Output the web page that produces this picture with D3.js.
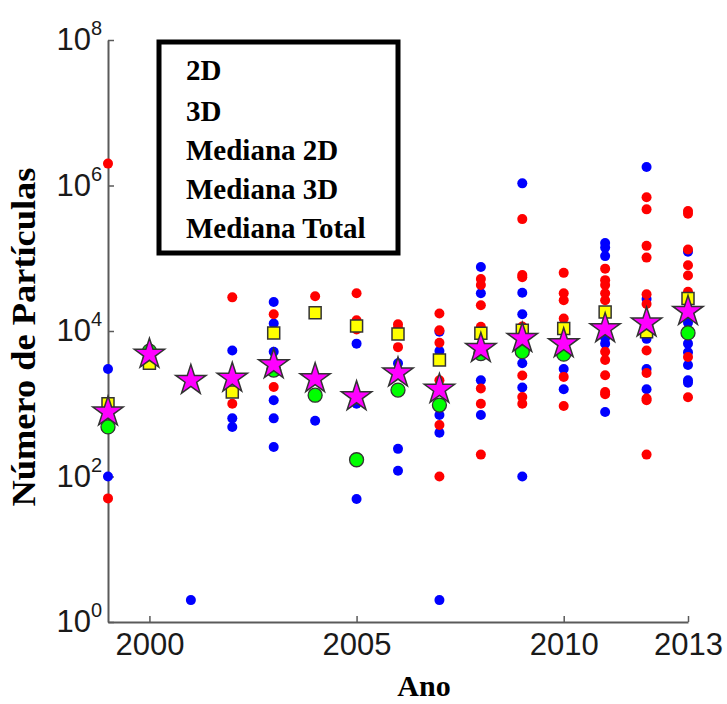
<!DOCTYPE html>
<html>
<head>
<meta charset="utf-8">
<script src="https://cdn.jsdelivr.net/npm/d3@7/dist/d3.min.js"></script>
<style>
    html, body { margin: 0; padding: 0; background: #fff; }
    svg { display: block; }
</style>
</head>
<body>
<div id="chart"></div>
<script>
// Anos (eixo x)
const years = [1999, 2000, 2001, 2002, 2003, 2004, 2005, 2006, 2007, 2008, 2009, 2010, 2011, 2012, 2013];

// Pontos 2D (azul), por ano
const pontos2D = [
    [3000, 100],
    [],
    [2],
    [5400, 630, 480],
    [25000, 12700, 5200, 1120, 630, 255],
    [585],
    [6700, 1000, 49],
    [3600, 240, 120],
    [9800, 5300, 700, 400, 2],
    [76000, 33000, 2100, 700],
    [1070000, 33500, 17000, 4900, 3600, 1670, 100],
    [5000, 3000, 1580],
    [162000, 140000, 107000, 8000, 6700, 770],
    [1800000, 27500, 7800, 3000, 1580],
    [123000, 13000, 6700, 5100, 3400, 2100, 1950]
];

// Pontos 3D (vermelho), por ano
const pontos3D = [
    [2000000, 50],
    [],
    [],
    [29000, 1000],
    [17000, 1700],
    [30000, 1300],
    [33000, 14000, 10500],
    [12400, 11000, 6000],
    [17400, 10200, 6900, 2100, 510, 100],
    [52000, 43000, 22600, 11400, 1620, 1000, 200],
    [345000, 59000, 55000, 11500, 2450, 1240, 1000],
    [63000, 33000, 26500, 14800, 2340, 930],
    [72000, 50000, 43000, 33000, 26500, 5200, 4000, 2460, 1450, 1350],
    [690000, 470000, 148000, 102000, 32000, 23500, 5400, 2650, 1180, 1120, 200],
    [445000, 410000, 132000, 80000, 58000, 34500, 4400, 1230]
];

// Medianas por ano (null = escondida atrás da estrela)
const mediana2D = [480, 5300, null, null, 2900, 1310, 170, 1540, 960, 4900, 5200, 4800, null, null, 9400];
const mediana3D = [1000, 3600, null, 1450, 9400, 17800, 11700, 9100, 4000, 9300, 10200, 10800, 18300, 9800, 28000];
const medianaTotal = [770, 4800, 2100, 2250, 3450, 2220, 1250, 2650, 1580, 5750, 7900, 6700, 10800, 12900, 18600];

// Ticks e legenda
const xTicks = [2000, 2005, 2010, 2013];
const yTicks = [1, 1e2, 1e4, 1e6, 1e8];
const legendLabels = ['2D', '3D', 'Mediana 2D', 'Mediana 3D', 'Mediana Total'];

const width = 727;
const height = 704;

const svg = d3.select('#chart')
    .append('svg')
    .attr('width', width)
    .attr('height', height);

const x = d3.scaleLinear().domain([1999, 2013]).range([108, 688]);
const y = d3.scaleLog().domain([1, 1e8]).range([622, 40]);

const axisColor = '#5a5a5a';
const tickFont = '"Liberation Sans", Arial, sans-serif';
const serifFont = '"Liberation Serif", "Times New Roman", serif';

// Eixo x
const xAxis = svg.append('g')
    .attr('transform', `translate(0,${y(1)})`)
    .call(d3.axisBottom(x)
        .tickValues(xTicks)
        .tickFormat(d3.format('d'))
        .tickSizeInner(-6)
        .tickSizeOuter(0)
        .tickPadding(11));

// Eixo y com expoentes
const yAxis = svg.append('g')
    .attr('transform', `translate(${x(1999)},0)`)
    .call(d3.axisLeft(y)
        .tickValues(yTicks)
        .tickSizeInner(-6)
        .tickSizeOuter(0)
        .tickPadding(6));

yAxis.selectAll('.tick text').each(function(d) {
    const t = d3.select(this).text('');
    t.append('tspan').text('10');
    t.append('tspan')
        .attr('dy', '-15')
        .attr('font-size', 20)
        .text(Math.round(Math.log10(d)));
});

[xAxis, yAxis].forEach(g => {
    g.select('.domain').attr('stroke', axisColor).attr('stroke-width', 2);
    g.selectAll('.tick line').attr('stroke', axisColor).attr('stroke-width', 1.5);
    g.selectAll('.tick text')
        .attr('fill', '#1a1a1a')
        .attr('font-family', tickFont)
        .attr('font-size', 31);
});

// Pontos 2D e 3D
const flat = (arr) => arr.flatMap((vals, i) => vals.map(v => ({ year: years[i], value: v })));

svg.append('g')
    .selectAll('circle')
    .data(flat(pontos2D))
    .enter().append('circle')
    .attr('cx', d => x(d.year))
    .attr('cy', d => y(d.value))
    .attr('r', 5)
    .attr('fill', '#0000ff');

svg.append('g')
    .selectAll('circle')
    .data(flat(pontos3D))
    .enter().append('circle')
    .attr('cx', d => x(d.year))
    .attr('cy', d => y(d.value))
    .attr('r', 5)
    .attr('fill', '#ff0000');

// Medianas
const medPoints = (arr) => arr.map((v, i) => ({ year: years[i], value: v })).filter(d => d.value != null);

svg.append('g')
    .selectAll('circle')
    .data(medPoints(mediana2D))
    .enter().append('circle')
    .attr('cx', d => x(d.year))
    .attr('cy', d => y(d.value))
    .attr('r', 7)
    .attr('fill', '#00ff00')
    .attr('stroke', '#333')
    .attr('stroke-width', 1.3);

svg.append('g')
    .selectAll('path')
    .data(medPoints(mediana3D))
    .enter().append('path')
    .attr('d', d3.symbol(d3.symbolSquare).size(144))
    .attr('transform', d => `translate(${x(d.year)},${y(d.value)})`)
    .attr('fill', '#ffff00')
    .attr('stroke', '#333')
    .attr('stroke-width', 1.5);

svg.append('g')
    .selectAll('path')
    .data(medPoints(medianaTotal))
    .enter().append('path')
    .attr('d', d3.symbol(d3.symbolStar).size(285))
    .attr('transform', d => `translate(${x(d.year)},${y(d.value)})`)
    .attr('fill', '#ff00ff')
    .attr('stroke', '#333')
    .attr('stroke-width', 1.5);

// Legenda (só texto, caixa com borda grossa)
const legend = svg.append('g');
legend.append('rect')
    .attr('x', 159)
    .attr('y', 42)
    .attr('width', 239)
    .attr('height', 211)
    .attr('fill', '#fff')
    .attr('stroke', '#000')
    .attr('stroke-width', 5);

const legendY = [80, 121, 160, 199, 238];
legend.selectAll('text')
    .data(legendLabels)
    .enter().append('text')
    .attr('x', 186)
    .attr('y', (d, i) => legendY[i])
    .attr('font-family', serifFont)
    .attr('font-weight', 'bold')
    .attr('font-size', 29)
    .attr('fill', '#000')
    .text(d => d);

// Títulos dos eixos
svg.append('text')
    .attr('x', 424)
    .attr('y', 696)
    .attr('text-anchor', 'middle')
    .attr('font-family', serifFont)
    .attr('font-weight', 'bold')
    .attr('font-size', 30)
    .text('Ano');

svg.append('text')
    .attr('transform', 'translate(35,337) rotate(-90)')
    .attr('text-anchor', 'middle')
    .attr('font-family', serifFont)
    .attr('font-weight', 'bold')
    .attr('font-size', 34)
    .attr('textLength', 339)
    .attr('lengthAdjust', 'spacingAndGlyphs')
    .text('Número de Partículas');
</script>
</body>
</html>
